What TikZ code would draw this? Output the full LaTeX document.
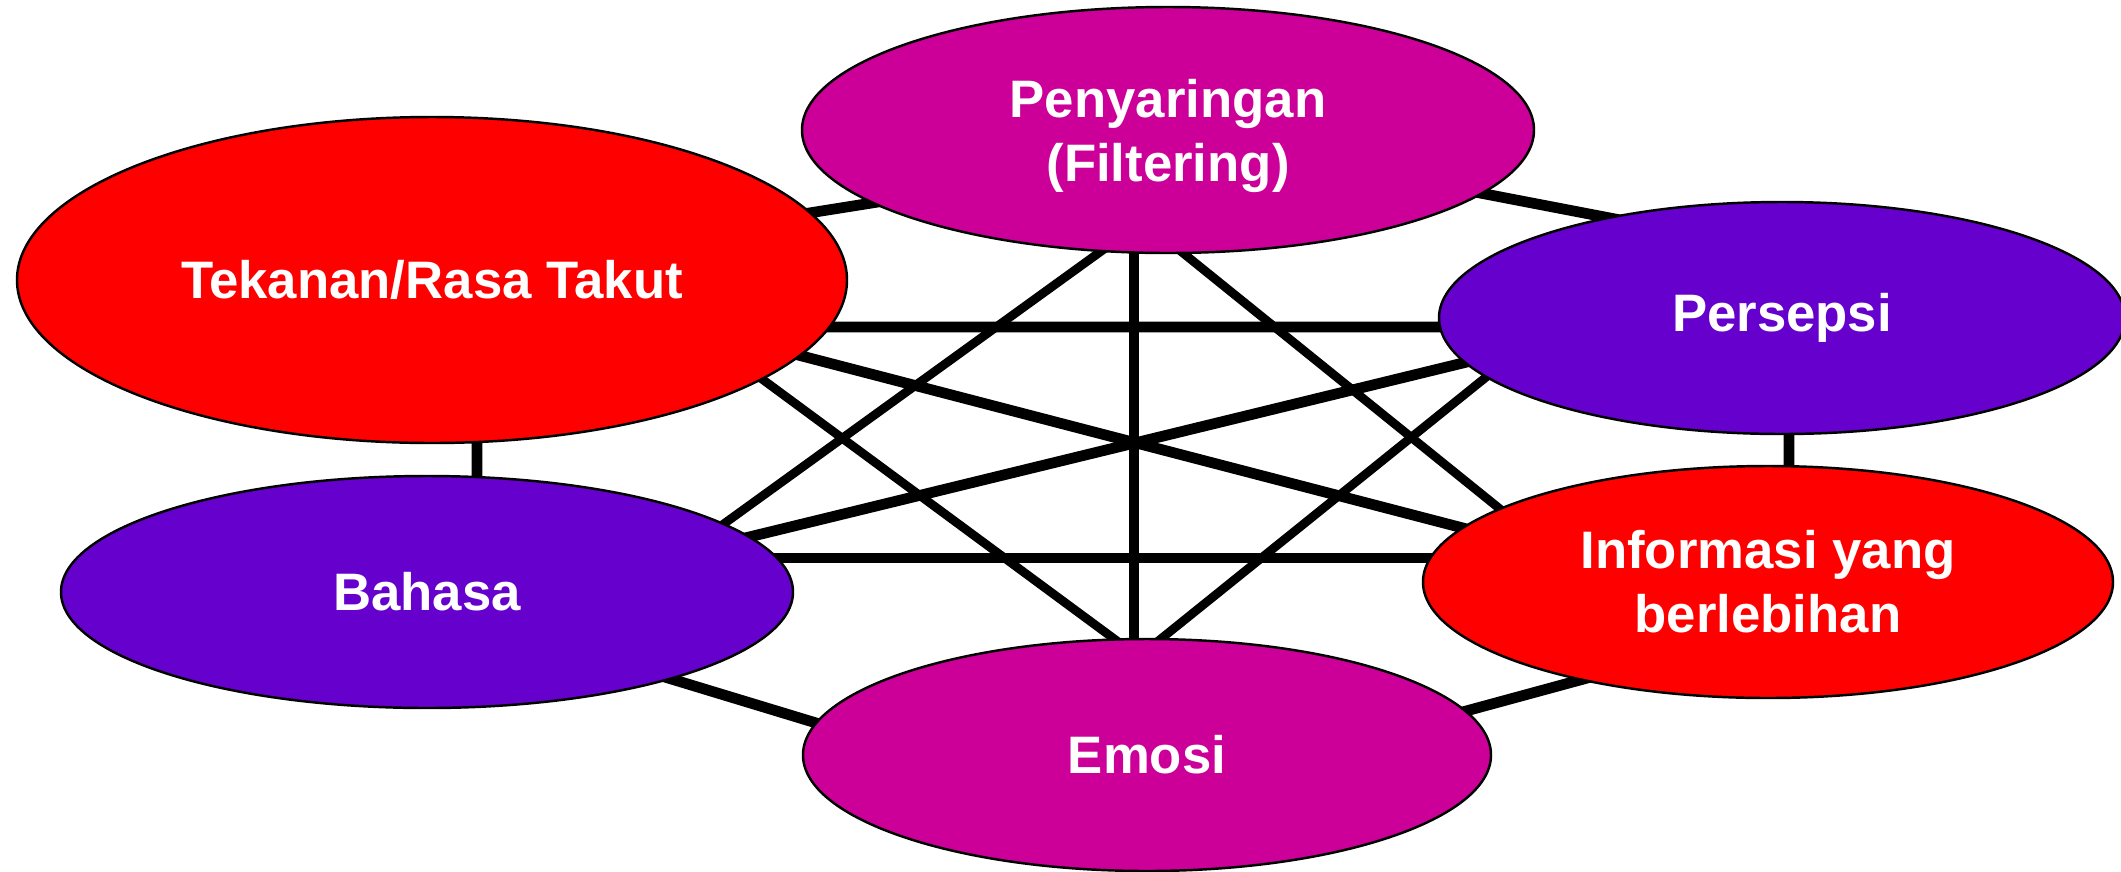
\documentclass[tikz,border=0pt]{standalone}
\usepackage{xcolor}
\usepackage{fontspec}
\setmainfont{Liberation Sans}
\usepackage{tikz}
\usetikzlibrary{shapes.geometric, backgrounds, calc}

\definecolor{merah}{HTML}{FF0000}
\definecolor{ungu}{HTML}{6600CC}
\definecolor{fucsia}{HTML}{CC0099}

\begin{document}
\begin{tikzpicture}[link/.style = {line width=3.05pt, shorten <=-6pt, shorten >=-6pt}, linkthin/.style = {link, line width=2.5pt}]
		\tikzset{bubble/.style={draw=black, line width=0.7pt, ellipse, inner sep=0pt, outer sep=0pt, align=center, text=white, font=\fontsize{15}{18.2}\selectfont\bfseries}}
		\useasboundingbox (0,0) rectangle (21.21,-8.71);

		\node[bubble, fill=fucsia, minimum width=7.32cm, minimum height=2.46cm, text depth=0pt] (penyaringan) at (11.68,-1.30) {Penyaringan\\(Filtering)};
		\node[bubble, fill=merah, minimum width=8.30cm, minimum height=3.26cm] (tekanan) at (4.32,-2.80) {Tekanan/Rasa Takut};
		\node[bubble, fill=ungu, minimum width=6.86cm, minimum height=2.32cm] (persepsi) at (17.82,-3.18) {Persepsi};
		\node[bubble, fill=ungu, minimum width=7.32cm, minimum height=2.32cm] (bahasa) at (4.27,-5.92) {Bahasa};
		\node[bubble, fill=merah, minimum width=6.90cm, minimum height=2.32cm] (informasi) at (17.68,-5.82) {Informasi yang\\berlebihan};
		\node[bubble, fill=fucsia, minimum width=6.88cm, minimum height=2.32cm] (emosi) at (11.47,-7.55) {Emosi};

		\begin{pgfonlayer}{background}
			\draw [link] ($(tekanan)+(3.77,0.67)$) -- ($(penyaringan)+(-2.90,-0.72)$);
			\draw [link] ($(penyaringan)+(3.12,-0.63)$) -- ($(persepsi)+(-1.72,1.00)$);
			\draw [link] ($(tekanan)+(3.97,-0.47)$) -- ($(persepsi)+(-3.42,-0.09)$);
			\draw [link] ($(tekanan)+(3.66,-0.75)$) -- ($(informasi)+(-3.05,0.54)$);
			\draw [link] ($(persepsi)+(-3.15,-0.44)$) -- ($(bahasa)+(3.22,0.55)$);
			\draw [linkthin] ($(tekanan)+(3.30,-0.99)$) -- ($(emosi)+(-0.34,1.17)$);
			\draw [linkthin] ($(penyaringan)+(-0.68,-1.22)$) -- ($(bahasa)+(2.98,0.69)$);
			\draw [link] ($(penyaringan)+(-0.34,-1.22)$) -- ($(emosi)+(-0.13,1.16)$);
			\draw [linkthin] ($(penyaringan)+(0.15,-1.23)$) -- ($(informasi)+(-2.68,0.73)$);
			\draw [linkthin] ($(persepsi)+(-2.97,-0.60)$) -- ($(emosi)+(0.15,1.17)$);
			\draw [link] ($(persepsi)+(0.07,-1.15)$) -- ($(informasi)+(0.21,1.15)$);
			\draw [link] ($(bahasa)+(3.49,0.34)$) -- ($(informasi)+(-3.37,0.24)$);
			\draw [link] ($(bahasa)+(2.41,-0.86)$) -- ($(emosi)+(-3.34,0.33)$);
			\draw [link] ($(informasi)+(-1.88,-0.98)$) -- ($(emosi)+(3.19,0.44)$);
			\draw [link] ($(tekanan)+(0.45,-1.63)$) -- ($(bahasa)+(0.50,1.15)$);
		\end{pgfonlayer}

	\end{tikzpicture}
\end{document}
